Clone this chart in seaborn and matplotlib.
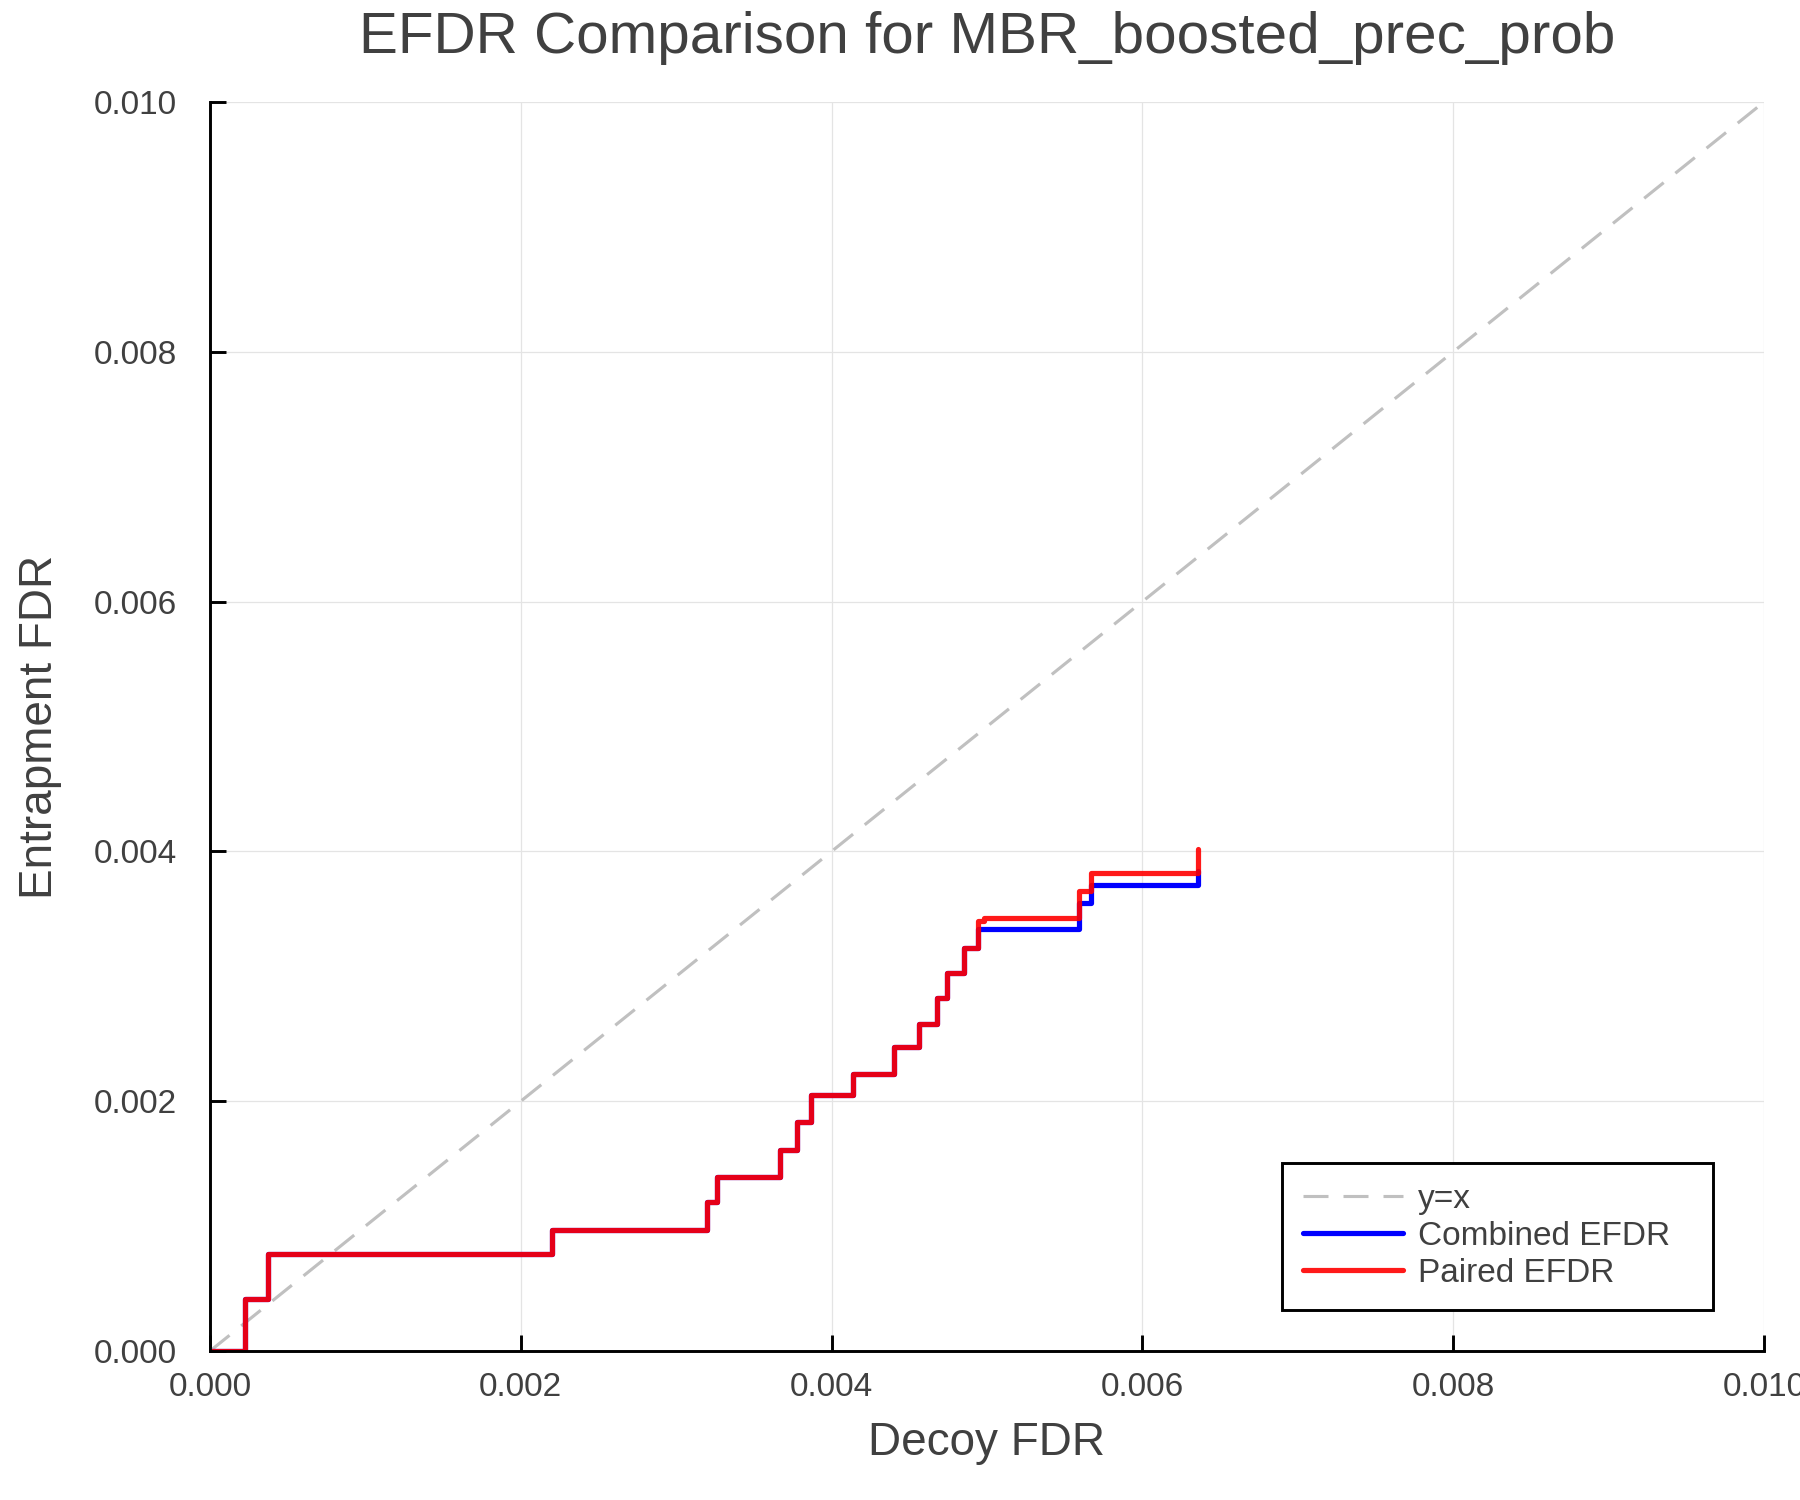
import matplotlib
matplotlib.use("Agg")
import matplotlib.pyplot as plt
from matplotlib.ticker import FormatStrFormatter
import seaborn as sns
import pandas as pd

# ---- data ----
diag_x = [0.0, 0.01]
diag_y = [0.0, 0.01]

combined_x = [0.0, 0.000225, 0.000375, 0.0022, 0.0032, 0.00326, 0.00367, 0.00378,
              0.00387, 0.00414, 0.00440, 0.00456, 0.00468, 0.00474, 0.00485, 0.00494,
              0.00559, 0.00567, 0.00636]
combined_y = [0.0, 0.00042, 0.00078, 0.00097, 0.00119, 0.00139, 0.00161, 0.00183,
              0.00205, 0.00222, 0.00243, 0.00262, 0.00283, 0.00303, 0.00323, 0.00338,
              0.00359, 0.00373, 0.00384]

paired_x = [0.0, 0.000225, 0.000375, 0.0022, 0.0032, 0.00326, 0.00367, 0.00378,
            0.00387, 0.00414, 0.00440, 0.00456, 0.00468, 0.00474, 0.00485, 0.00494,
            0.00498, 0.00559, 0.00567, 0.00636]
paired_y = [0.0, 0.00042, 0.00078, 0.00097, 0.00119, 0.00139, 0.00161, 0.00183,
            0.00205, 0.00222, 0.00243, 0.00262, 0.00283, 0.00303, 0.00323, 0.00344,
            0.00347, 0.00368, 0.00383, 0.00402]

ticks = [0.0, 0.002, 0.004, 0.006, 0.008, 0.010]

title = "EFDR Comparison for MBR_boosted_prec_prob"
xlabel = "Decoy FDR"
ylabel = "Entrapment FDR"

# ---- style ----
sns.set_theme(style="white")
plt.rcParams["font.family"] = ["Liberation Sans", "DejaVu Sans"]
txt = "#404040"

fig = plt.figure(figsize=(12, 10), dpi=150)
ax = fig.add_axes([210 / 1800, 1 - 1351 / 1500, (1764 - 210) / 1800, (1351 - 102) / 1500])

sns.lineplot(x=diag_x, y=diag_y, ax=ax, color="#c0c0c0", linewidth=1.5,
             linestyle=(0, (8, 4.8)), label="y=x", estimator=None, sort=False)
sns.lineplot(data=pd.DataFrame({"x": combined_x, "y": combined_y}), x="x", y="y",
             ax=ax, color="#0000ff", linewidth=2.5, drawstyle="steps-post",
             label="Combined EFDR", estimator=None, sort=False)
sns.lineplot(data=pd.DataFrame({"x": paired_x, "y": paired_y}), x="x", y="y",
             ax=ax, color="#ff0000", alpha=0.9, linewidth=2.5, drawstyle="steps-post",
             label="Paired EFDR", estimator=None, sort=False)

ax.set_xlim(0, 0.01)
ax.set_ylim(0, 0.01)
ax.set_xticks(ticks)
ax.set_yticks(ticks)
ax.xaxis.set_major_formatter(FormatStrFormatter("%.3f"))
ax.yaxis.set_major_formatter(FormatStrFormatter("%.3f"))
ax.grid(True, color="#e4e4e4", linewidth=0.6)
ax.set_axisbelow(True)

for s in ["top", "right"]:
    ax.spines[s].set_visible(False)
for s in ["left", "bottom"]:
    ax.spines[s].set_color("black")
    ax.spines[s].set_linewidth(1.4)

ax.tick_params(axis="both", direction="in", length=7.5, width=1.4, color="black",
               labelsize=16, labelcolor=txt)
ax.tick_params(axis="x", pad=10)
ax.tick_params(axis="y", pad=16)
ax.tick_params(bottom=True, left=True)

ax.set_xlabel("")
ax.set_ylabel("")
fig.text(987 / 1800, 1 - 1443 / 1500, xlabel, ha="center", va="center",
         fontsize=22, color=txt)
fig.text(40 / 1800, 1 - 727 / 1500, ylabel, ha="center", va="center",
         rotation=90, fontsize=22, color=txt)
fig.text(987 / 1800, 1 - 38 / 1500, title, ha="center", va="center",
         fontsize=28, color=txt)

leg = ax.legend(loc="lower left", bbox_to_anchor=(0.690, 0.033, 0.277, 0.12),
                mode="expand", fontsize=16,
                frameon=True, fancybox=False, edgecolor="black", framealpha=1,
                handlelength=3.0, handletextpad=0.45, labelspacing=0.18,
                borderpad=0.62, borderaxespad=0)
leg.get_frame().set_linewidth(1.4)
for t in leg.get_texts():
    t.set_color(txt)

fig.savefig("out.png", dpi=150)
